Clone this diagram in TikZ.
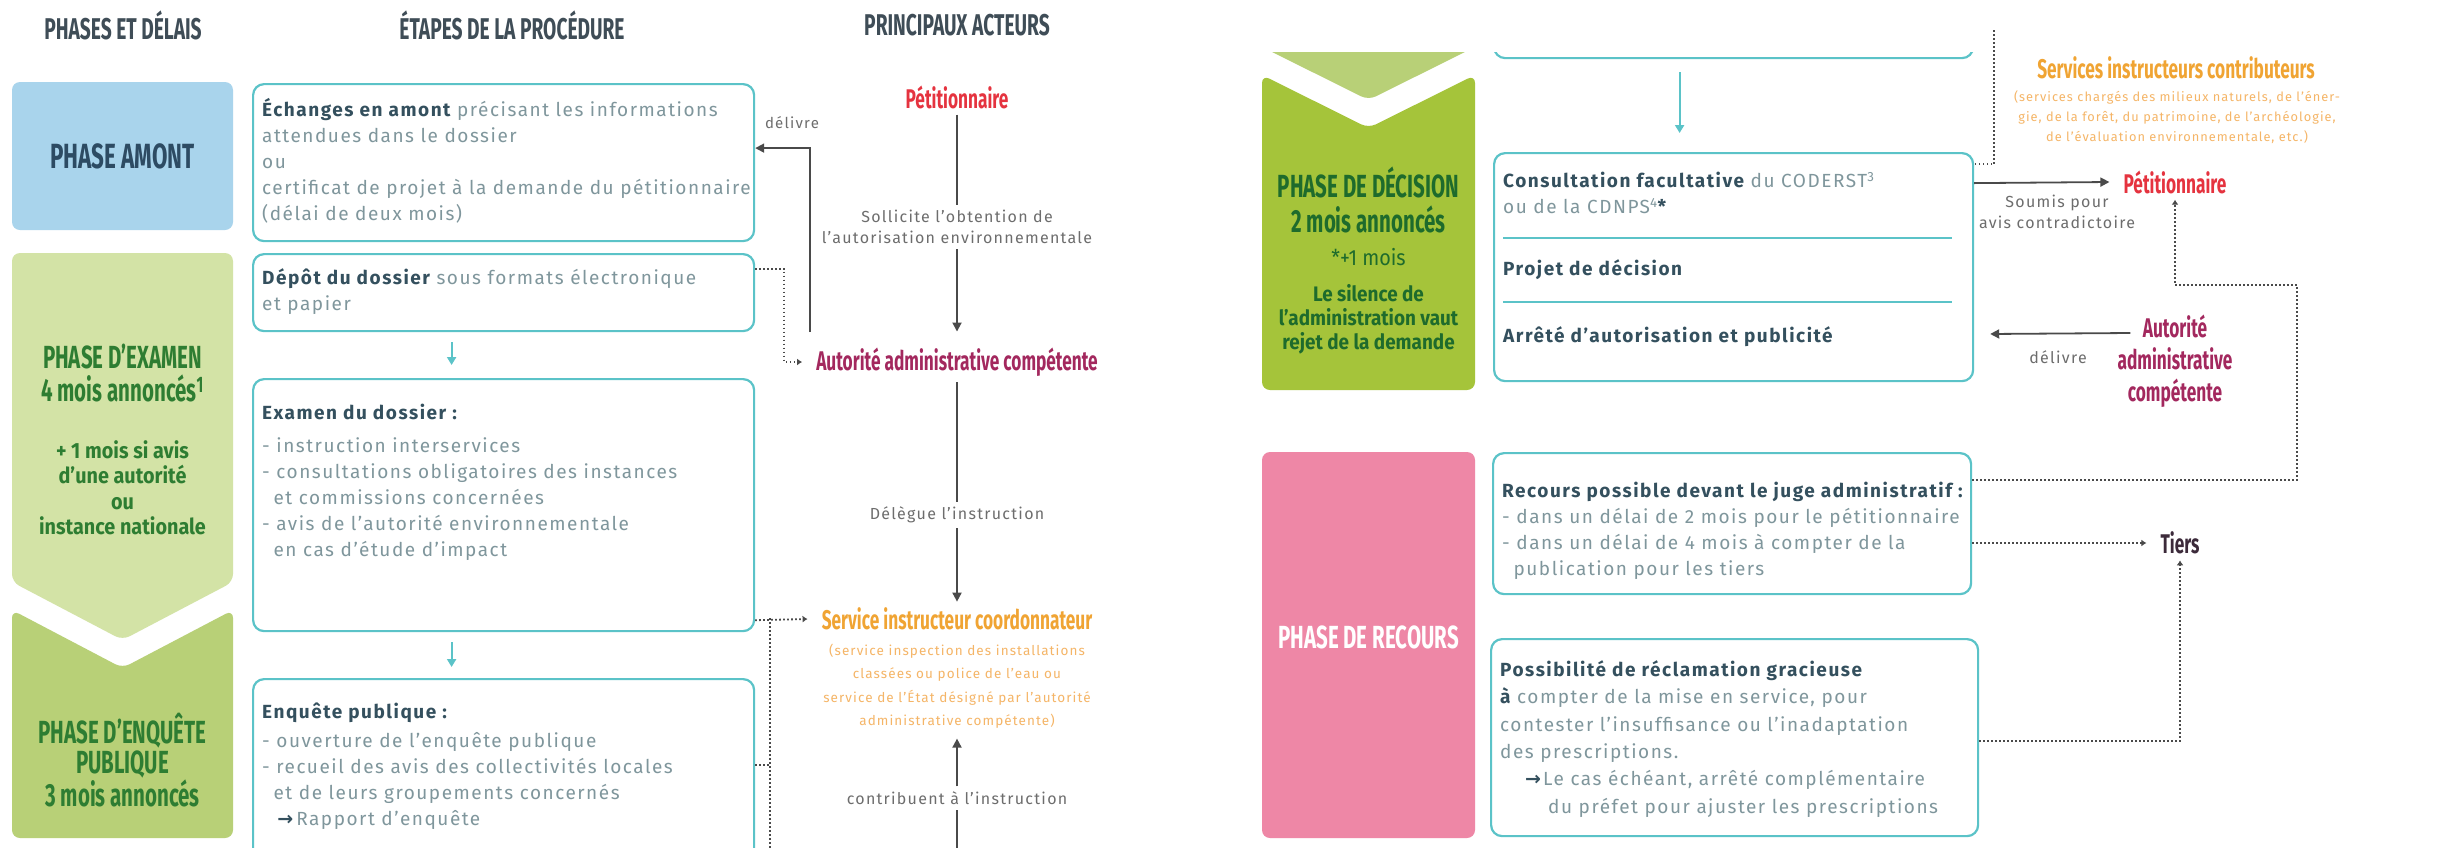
\documentclass[tikz,border=0pt]{standalone}
\usepackage{fontspec}
\setmainfont{Fira Sans}[LetterSpace=8]
\newfontfamily\condfont[FakeStretch=0.64]{Fira Sans}
\newfontfamily\semifont[FakeStretch=0.9]{Fira Sans}
\newfontfamily\symfont{DejaVu Sans}
\usetikzlibrary{arrows.meta,positioning,calc}

\definecolor{boxline}{HTML}{5BC3C8}
\definecolor{boxdark}{HTML}{34505E}
\definecolor{boxtext}{HTML}{7F969C}
\definecolor{headgray}{HTML}{3F4D57}
\definecolor{linegray}{HTML}{4A4A4A}
\definecolor{labelgray}{HTML}{6D6D6D}
\definecolor{petred}{HTML}{E5333F}
\definecolor{autored}{HTML}{A3285E}
\definecolor{servorange}{HTML}{F0A433}
\definecolor{servlight}{HTML}{F5B567}
\definecolor{amontblue}{HTML}{A9D4EC}
\definecolor{amonttext}{HTML}{2D4B63}
\definecolor{examgreen}{HTML}{D3E3A6}
\definecolor{enqgreen}{HTML}{B8D077}
\definecolor{decigreen}{HTML}{A5C43A}
\definecolor{phasetext}{HTML}{2E7D32}
\definecolor{decitext}{HTML}{1E6B2C}
\definecolor{recourspink}{HTML}{EE87A6}
\definecolor{tiersdark}{HTML}{3C2A3A}

\newcommand\bodysize{\fontsize{19}{26}\selectfont}
\newcommand\stephead[1]{\textcolor{boxdark}{\bfseries #1}}
\newcommand\steparrow{\textcolor{boxdark}{\symfont\bfseries →}}

\tikzset{
  colhead/.style={font=\condfont\bfseries\fontsize{30}{32}\selectfont, text=headgray, inner sep=0pt},
  phasename/.style={font=\condfont\bfseries\fontsize{32}{30}\selectfont, align=center, inner sep=0pt},
  phasenote/.style={font=\semifont\bfseries\fontsize{22}{25.5}\selectfont, align=center, inner sep=0pt},
  stepbox/.style={draw=boxline, line width=2.2pt, rounded corners=11pt, fill=white, anchor=north west, inner sep=0pt, minimum width=501pt},
  steptext/.style={font=\bodysize, text=boxtext, align=left, anchor=north west, inner sep=0pt},
  actor/.style={font=\condfont\bfseries\fontsize{27}{32}\selectfont, align=center, inner xsep=14pt, inner ysep=6pt},
  actlabel/.style={font=\fontsize{16}{21}\selectfont, text=labelgray, align=center, inner sep=5pt},
  actnote/.style={font=\fontsize{13.5}{23.5}\selectfont, text=servlight, align=center, inner sep=2pt},
  solidline/.style={draw=linegray, line width=1.8pt},
  solidarrow/.style={solidline, -{Triangle[length=9pt,width=9pt]}},
  dotline/.style={draw=linegray, line width=1.8pt, dash pattern=on 1.6pt off 2.4pt},
  dotarrow/.style={dotline, -{Latex[length=5pt,width=7pt]}},
  tealarrow/.style={draw=boxline, line width=2pt, -{Triangle[length=8pt,width=9pt]}}
}

\begin{document}
\begin{tikzpicture}[x=1pt, y=-1pt]
%%%%% START %%%%%
\fill[white] (0,0) rectangle (2451,847);
\useasboundingbox (0,0) rectangle (2451,847);
\clip (0,0) rectangle (2451,847);

% column heads
\node[colhead] (phasesH) at (123,25) {PHASES ET DÉLAIS};
\node[colhead] (etapesH) at (512,25) {ÉTAPES DE LA PROCÉDURE};
\node[colhead] (acteursH) at (957,25) {PRINCIPAUX ACTEURS};

% phases, left half
\fill[amontblue, rounded corners=8pt] (12,82) rectangle (233,230);
\node[phasename, text=amonttext, font=\condfont\bfseries\fontsize{35}{36}\selectfont] (amontP) at (122.5,156) {PHASE AMONT};

\fill[examgreen, rounded corners=8pt] (12,253) -- (233,253) -- (233,582) -- (122.5,640) -- (12,582) -- cycle;
\node[phasename, text=phasetext] (examenP) at (122.5,373) {PHASE D’EXAMEN\\[3pt]4 mois annoncés\textsuperscript{1}};
\node[phasenote, text=phasetext] (examenN) at (122.5,488) {+ 1 mois si avis\\d’une autorité\\ou\\instance nationale};

\fill[enqgreen, rounded corners=8pt] (12,610) -- (122.5,668) -- (233,610) -- (233,838) -- (12,838) -- cycle;
\node[phasename, text=phasetext] (enqueteP) at (122.5,760) {PHASE D’ENQUÊTE\\PUBLIQUE\\3 mois annoncés};

% steps, left half
\node[stepbox, minimum height=157pt] (echanges) at (252,83) {};
\node[steptext] (echangesT) at ([shift={(10,15)}]echanges.north west)
  {\strut\stephead{Échanges en amont} précisant les informations\\attendues dans le dossier\\ou\\certificat de projet à la demande du pétitionnaire\\(délai de deux mois)};

\node[stepbox, minimum height=77pt] (depot) at (252,253) {};
\node[steptext] (depotT) at ([shift={(10,13)}]depot.north west)
  {\strut\stephead{Dépôt du dossier} sous formats électronique\\et papier};

\node[stepbox, minimum height=252pt] (examen) at (252,378) {};
\node[steptext] (examenT) at ([shift={(10,23)}]examen.north west)
  {\strut\stephead{Examen du dossier :}\\[7pt]
   - instruction interservices\\
   - consultations obligatoires des instances\\
   \hspace*{0.6em}et commissions concernées\\
   - avis de l’autorité environnementale\\
   \hspace*{0.6em}en cas d’étude d’impact};

\node[stepbox, minimum height=200pt] (enquete) at (252,678) {};
\node[steptext] (enqueteT) at ([shift={(10,22)}]enquete.north west)
  {\strut\stephead{Enquête publique :}\\[3pt]
   - ouverture de l’enquête publique\\
   - recueil des avis des collectivités locales\\
   \hspace*{0.6em}et de leurs groupements concernés\\
   \hspace*{0.8em}\steparrow\hspace{3pt}Rapport d’enquête};

\draw[tealarrow] ([shift={(-52,10)}]depot.south) -- ([shift={(-52,-13)}]examen.north);
\draw[tealarrow] ([shift={(-52,10)}]examen.south) -- ([shift={(-52,-11)}]enquete.north);

% actors, left half
\node[actor, text=petred] (petA) at (957,97) {Pétitionnaire};
\node[actlabel] (sollA) at (957,227) {Sollicite l’obtention de\\l’autorisation environnementale};
\node[actor, text=autored] (autA) at (957,362) {Autorité administrative compétente};
\node[actlabel] (delegA) at (957,515) {Délègue l’instruction};
\node[actor, text=servorange] (servA) at (957,619) {Service instructeur coordonnateur};
\node[actnote] (servnoteA) at (957,686) {(service inspection des installations\\classées ou police de l’eau ou\\service de l’État désigné par l’autorité\\administrative compétente)};
\node[actlabel] (contribA) at (957,798) {contribuent à l’instruction};
\coordinate (bottomA) at (957,870);

\draw[solidline] (petA) -- (sollA);
\draw[solidarrow, shorten >=10pt] (sollA) -- (autA);
\draw[solidline] (autA) -- (delegA);
\draw[solidarrow] (delegA) -- (servA);
\draw[solidline] (bottomA) -- (contribA);
\draw[solidarrow, shorten >=8pt] (contribA) -- (servnoteA);

\coordinate (delivA) at (810,332);
\draw[solidarrow] (delivA) |- ([yshift=14.5pt]echanges.east);
\node[actlabel, font=\fontsize{15}{20}\selectfont] (delivLabA) at (792,123) {délivre};

\draw[dotarrow] ([yshift=24pt]depot.east) -- ++(29,0) |- (autA.west);
\draw[dotarrow] ([yshift=12pt]examen.south east) -- (servA.west);
\coordinate (jointA) at (770,618);
\coordinate (dotbotA) at (770,870);
\draw[dotline] (jointA) -- (dotbotA);
\draw[dotline] ([yshift=-87pt]enquete.north east) -| (jointA);

% phases, right half
\begin{scope}
  \clip (1230,52) rectangle (2451,870);
  \fill[enqgreen, rounded corners=8pt] (1262,0) -- (1262,47) -- (1368.5,100) -- (1475,47) -- (1475,0) -- cycle;
  \node[stepbox, minimum width=479pt, minimum height=80pt] (prevB) at (1493,-23) {};
\end{scope}

\fill[decigreen, rounded corners=8pt] (1262,75) -- (1368.5,128) -- (1475,75) -- (1475,390) -- (1262,390) -- cycle;
\node[phasename, text=decitext] (decisP) at (1368.5,200) {PHASE DE DÉCISION\\[5pt]2 mois annoncés};
\node[phasenote, font=\semifont\fontsize{22}{25}\selectfont, text=decitext] (decisN) at (1368.5,257) {*+1 mois};
\node[phasenote, text=decitext, font=\semifont\bfseries\fontsize{21}{24}\selectfont] (silenceN) at (1368.5,319) {Le silence de\\l’administration vaut\\rejet de la demande};

\fill[recourspink, rounded corners=8pt] (1262,452) rectangle (1475,838);
\node[phasename, text=white] (recoursP) at (1368.5,637) {PHASE DE RECOURS};

% steps, right half
\node[stepbox, minimum width=479pt, minimum height=228pt] (decisB) at (1493,152) {};
\draw[boxline, line width=2.2pt] ([shift={(10,86)}]decisB.north west) -- ([shift={(-22,86)}]decisB.north east);
\draw[boxline, line width=2.2pt] ([shift={(10,150)}]decisB.north west) -- ([shift={(-22,150)}]decisB.north east);
\node[steptext] (consultT) at ([shift={(10,17)}]decisB.north west)
  {\strut\stephead{Consultation facultative} du CODERST\textsuperscript{3}\\ou de la CDNPS\textsuperscript{4}\stephead{*}};
\node[steptext] (projetT) at ([shift={(10,105)}]decisB.north west) {\strut\stephead{Projet de décision}};
\node[steptext] (arreteT) at ([shift={(10,172)}]decisB.north west) {\strut\stephead{Arrêté d’autorisation et publicité}};
\draw[tealarrow] ([shift={(-54,13)}]prevB.south) -- ([shift={(-54,-19)}]decisB.north);

\node[stepbox, minimum width=478pt, minimum height=141pt] (recoursB) at (1492,452) {};
\node[steptext] (recoursT) at ([shift={(10,27)}]recoursB.north west)
  {\strut\stephead{Recours possible devant le juge administratif :}\\
   - dans un délai de 2 mois pour le pétitionnaire\\
   - dans un délai de 4 mois à compter de la\\
   \hspace*{0.6em}publication pour les tiers};

\node[stepbox, minimum width=487pt, minimum height=197pt] (gracB) at (1490,638) {};
\node[steptext, font=\fontsize{19}{27.4}\selectfont] (gracT) at ([shift={(10,19)}]gracB.north west)
  {\strut\stephead{Possibilité de réclamation gracieuse}\\
   \stephead{à} compter de la mise en service, pour\\
   contester l’insuffisance ou l’inadaptation\\
   des prescriptions.\\
   \hspace*{25pt}\steparrow\hspace{2pt}Le cas échéant, arrêté complémentaire\\
   \hspace*{48pt}du préfet pour ajuster les prescriptions};

% actors, right half
\node[actor, text=servorange] (servB) at (2176,68) {Services instructeurs contributeurs};
\node[actnote, font=\fontsize{12.8}{20}\selectfont] (servnoteB) at (2177,117) {(services chargés des milieux naturels, de l’éner-\\gie, de la forêt, du patrimoine, de l’archéologie,\\de l’évaluation environnementale, etc.)};
\node[actor, text=petred] (petB) at (2175,182) {Pétitionnaire};
\node[actlabel] (soumisB) at (2057,212) {Soumis pour\\avis contradictoire};
\node[actor, text=autored] (autB) at (2175,361) {Autorité\\administrative\\compétente};
\node[actlabel] (delivB) at (2058,357) {délivre};
\node[actor, text=tiersdark] (tiersB) at (2180,543) {Tiers};

\draw[solidarrow] ([yshift=84pt]decisB.east) -- (petB.west);
\draw[solidarrow, shorten >=16pt] ($(autB.west)+(27,-28)$) -- ($(decisB.east)+(0,67)$);

\coordinate (topB) at (1994,30);
\draw[dotline] (topB) |- ([yshift=103pt]decisB.east);
\coordinate (cornerB) at (2297,285);
\draw[dotarrow] ([yshift=-28pt]recoursB.north east) -| (cornerB) -| (petB.south);
\draw[dotarrow] ([yshift=-91pt]recoursB.north east) -- (tiersB.west);
\draw[dotarrow] ([yshift=-103pt]gracB.north east) -| (tiersB.south);
%%%%% END %%%%%
\end{tikzpicture}
\end{document}
